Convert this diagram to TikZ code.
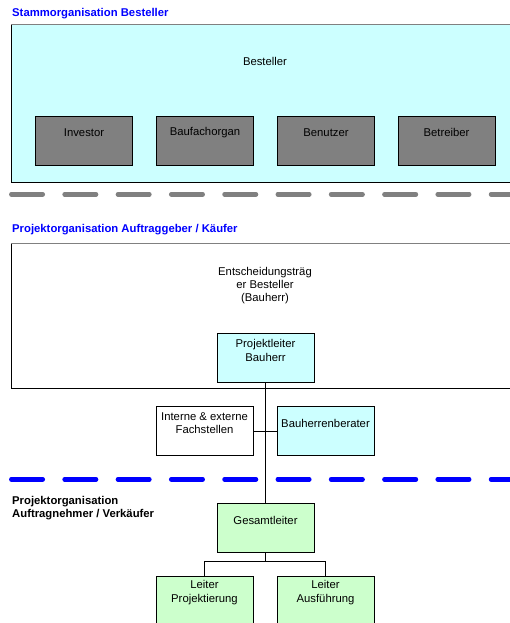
\documentclass[tikz,border=0pt]{standalone}
\usepackage{fontspec}
\setmainfont{Liberation Sans}
\definecolor{lightcyan}{HTML}{CCFFFF}
\definecolor{lightgreen}{HTML}{CCFFCC}
\definecolor{boxgray}{HTML}{808080}
\definecolor{titleblue}{HTML}{0000FF}
\newcommand{\orgfont}{\fontsize{11.3}{13.3}\selectfont}
\tikzset{
  orgbox/.style={draw, line width=0.8pt, minimum width=97pt, minimum height=49pt, inner sep=0pt,
    label={[anchor=center, yshift=-17pt, align=center, font=\orgfont]north:#1}},
  titletext/.style={anchor=west, inner sep=0pt, align=left, font=\orgfont\bfseries},
  sepline/.style={line width=4.5pt, line cap=round, dash pattern=on 31.5pt off 21.8pt},
  link/.style={line width=0.8pt}
}
\begin{document}
\begin{tikzpicture}[x=1pt,y=-1pt]
\clip (0,0) rectangle (510,623);

% Stammorganisation
\node[titletext, text=titleblue] (title1) at (12,13.3) {Stammorganisation Besteller};
\draw[line width=0.8pt, fill=lightcyan] (11,24.7) rectangle (530,182);
\draw[line width=0.8pt, boxgray] (11,24.7) -- (530,24.7);
\node[font=\orgfont] (besteller) at (265,61) {Besteller};
\node[orgbox=Investor, fill=boxgray] (investor) at (84,140.5) {};
\node[orgbox=Baufachorgan, fill=boxgray] (baufach) at (205,140.5) {};
\node[orgbox=Benutzer, fill=boxgray] (benutzer) at (326,140.5) {};
\node[orgbox=Betreiber, fill=boxgray] (betreiber) at (446.5,140.5) {};
\draw[sepline, boxgray] (11.3,194.3) -- (530,194.3);

% Auftraggeber
\node[titletext, text=titleblue] (title2) at (12,230) {Projektorganisation Auftraggeber / Käufer};
\draw[line width=0.8pt, fill=white] (11,243.3) rectangle (530,388);
\draw[line width=0.8pt, boxgray] (11,243.3) -- (530,243.3);
\node[font=\orgfont, align=center] (entscheid) at (265,285.5) {Entscheidungsträg\\er Besteller\\(Bauherr)};
\node[orgbox={Projektleiter\\Bauherr}, fill=lightcyan] (plbauherr) at (265.5,358.3) {};
\node[orgbox={Interne \& externe\\Fachstellen}, fill=white] (fachstellen) at (204.5,431) {};
\node[orgbox=Bauherrenberater, fill=lightcyan] (berater) at (325.5,431) {};
\draw[sepline, titleblue] (11.3,479.3) -- (530,479.3);

% Auftragnehmer
\node[titletext] (title3) at (12,508.3) {Projektorganisation\\Auftragnehmer / Verkäufer};
\node[orgbox=Gesamtleiter, fill=lightgreen] (gesamt) at (265.5,528) {};
\node[orgbox={Leiter\\Projektierung}, fill=lightgreen] (leiterproj) at (204.5,600.5) {};
\node[orgbox={Leiter\\Ausführung}, fill=lightgreen] (leiteraus) at (325.5,600.5) {};

% Connectors
\draw[link] (plbauherr.south) -- (gesamt.north);
\draw[link] (fachstellen.east) -- (berater.west);
\coordinate (fork) at (265.5,561.3);
\draw[link] (gesamt.south) -- (fork);
\draw[link] (fork) -| (leiterproj.north);
\draw[link] (fork) -| (leiteraus.north);

\end{tikzpicture}
\end{document}
